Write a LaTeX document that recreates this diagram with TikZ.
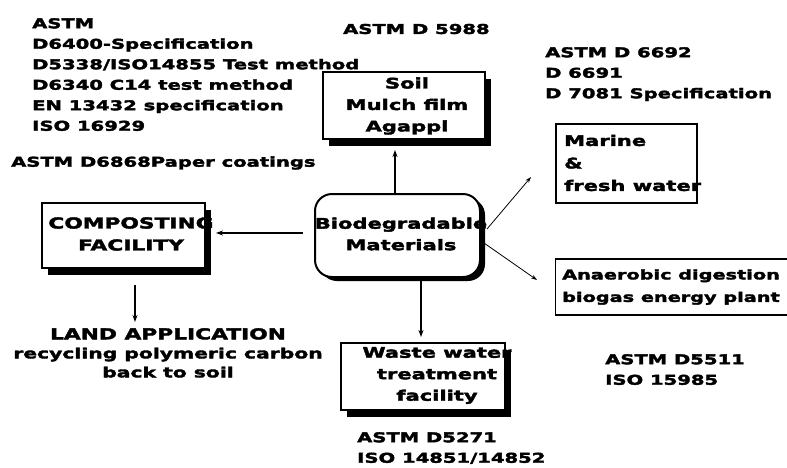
\documentclass[tikz,border=0pt]{standalone}
\usepackage{fontspec}
\newfontfamily\dvb[FakeStretch=1.45,FakeBold=2.5]{DejaVu Sans}
\usetikzlibrary{arrows.meta,shadows}
\begin{document}
\begin{tikzpicture}[x=1pt,y=-1pt,
  txt/.style={inner sep=0pt, align=left, font=\dvb\bfseries\fontsize{13.5}{20.5}\selectfont},
  btxt/.style={inner sep=0pt, align=left, font=\dvb\bfseries\fontsize{14.5}{22.5}\selectfont},
  ctxt/.style={inner sep=0pt, align=center, font=\dvb\bfseries\fontsize{14.5}{21.5}\selectfont},
  boxsh/.style={draw, line width=1.2pt, fill=white, drop shadow={shadow xshift=6pt, shadow yshift=-7pt, fill=black, opacity=1}},
  plainbox/.style={draw, line width=1.2pt, fill=white},
  arr/.style={line width=1.6pt, -{Stealth[length=7pt,width=5pt]}},
  thinarr/.style={line width=0.8pt, -{Stealth[length=6pt,width=4pt]}}]
\useasboundingbox (0,0) rectangle (787,467);
\clip (0,0) rectangle (787,467);
\fill[white] (0,0) rectangle (787,467);

% top-left standards
\node[txt, anchor=north west] (astmA) at (32,18) {ASTM\\D6400-Specification\\D5338/ISO14855 Test method\\D6340 C14 test method\\EN 13432 specification\\ISO 16929};
\node[txt, anchor=west] (paper) at (11,163) {ASTM D6868Paper coatings};
\node[txt, anchor=west] (d5988) at (343,29) {ASTM D 5988};
\node[txt, anchor=north west] (d6692) at (545,47) {ASTM D 6692\\D 6691\\D 7081 Specification};

% soil box
\node[boxsh, minimum width=162pt, minimum height=67pt] (soil) at (404,105.5) {};
\node[ctxt] (soilt) at (407,106) {Soil\\Mulch film\\Agappl};

% marine box
\node[plainbox, minimum width=141pt, minimum height=79pt] (marine) at (626.5,163.5) {};
\node[btxt, anchor=west] (marinet) at (564,163) {Marine\\\&\\fresh water};

% central box
\node[draw, line width=2pt, rounded corners=17pt, fill=white, minimum width=165pt, minimum height=83pt,
  drop shadow={shadow xshift=5pt, shadow yshift=-4pt, fill=black, opacity=1}] (bio) at (397.5,235.5) {};
\node[ctxt] (biot) at (401,234) {Biodegradable\\Materials};

% composting
\node[boxsh, minimum width=163pt, minimum height=65pt] (comp) at (123.5,235.5) {};
\node[ctxt, font=\dvb\bfseries\fontsize{15}{22}\selectfont] (compt) at (131,234) {COMPOSTING\\FACILITY};

% land application
\node[ctxt, anchor=north, font=\dvb\bfseries\fontsize{15}{22}\selectfont] (land) at (168,328) {LAND APPLICATION\\[-3pt]{\fontsize{14}{19}\selectfont recycling polymeric carbon}\\[-3pt]{\fontsize{14}{19}\selectfont back to soil}};

% waste water
\node[boxsh, minimum width=164pt, minimum height=67pt] (ww) at (423,376.5) {};
\node[ctxt] (wwt) at (437,375.5) {Waste water\\treatment\\facility};
\node[txt, anchor=north west] (d5271) at (357,432) {ASTM D5271\\ISO 14851/14852};

% anaerobic
\node[plainbox, minimum width=260pt, minimum height=56pt, anchor=west] (ana) at (555,287) {};
\node[txt, anchor=west, font=\dvb\bfseries\fontsize{13.3}{22.5}\selectfont] (anat) at (562,287) {Anaerobic digestion\\biogas energy plant};
\node[txt, anchor=north west] (d5511) at (605,354) {ASTM D5511\\ISO 15985};

% connectors
\coordinate (soilIn) at (395,150);
\draw[arr] (bio.north -| soilIn) -- (soilIn);
\coordinate (compIn) at (216,233);
\coordinate (bioL) at (303,233);
\draw[arr] (bioL) -- (compIn);
\coordinate (compOut) at (135,285);
\coordinate (landIn) at (135,322);
\draw[arr] (compOut) -- (landIn);
\coordinate (bioB) at (421,281);
\coordinate (wwIn) at (421,337);
\draw[arr] (bioB) -- (wwIn);
\coordinate (bioR1) at (487,229);
\coordinate (marIn) at (531,177);
\draw[thinarr] (bioR1) -- (marIn);
\coordinate (bioR2) at (484,243);
\coordinate (anaIn) at (537,280);
\draw[thinarr] (bioR2) -- (anaIn);
\end{tikzpicture}
\end{document}
